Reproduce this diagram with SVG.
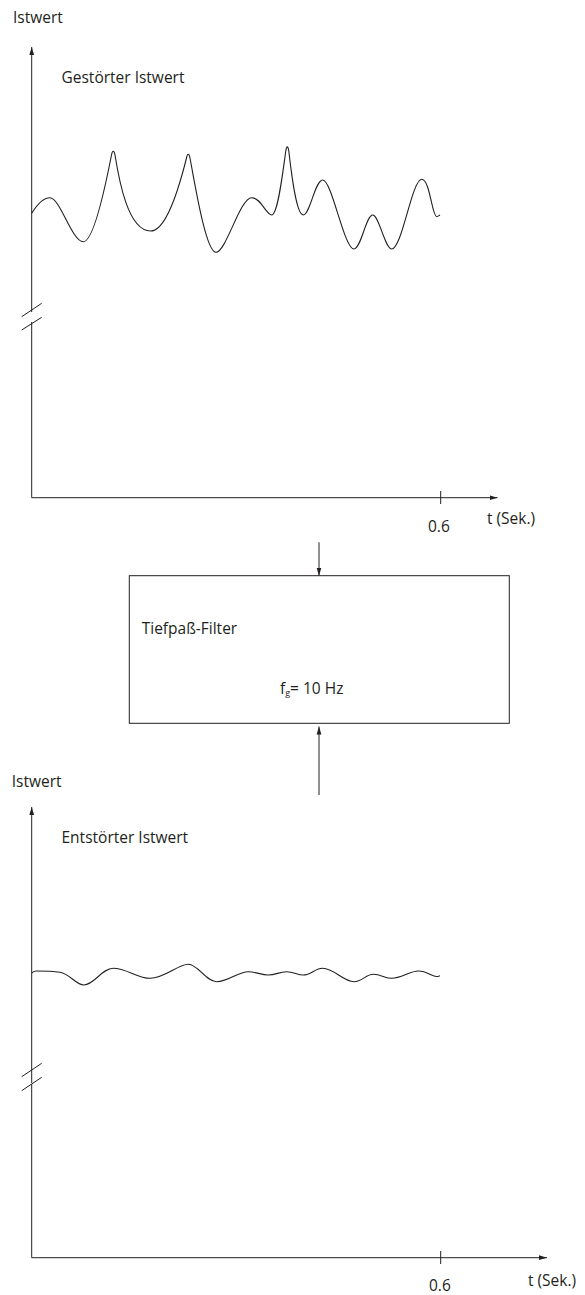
<svg xmlns="http://www.w3.org/2000/svg" width="585" height="1295" viewBox="0 0 585 1295">
<defs>
<marker id="ah" viewBox="0 0 8 6" refX="8" refY="3" markerWidth="8" markerHeight="6" markerUnits="userSpaceOnUse" orient="auto">
<path d="M0,0.6 L8,3 L0,5.4 Z" fill="#231f20"/>
</marker>
</defs>
<style>
.ln{stroke:#231f20;stroke-width:1;fill:none}
.cv{stroke:#231f20;stroke-width:1.1;fill:none;stroke-linejoin:round}
.tx{font-family:"Open Sans","Liberation Sans",sans-serif;font-size:15.5px;fill:#231f20}
.sub{font-size:9px}
</style>
<rect width="585" height="1295" fill="#fff"/>

<g id="chart-top">
<text class="tx" x="13" y="22.5">Istwert</text>
<line class="ln" x1="31.7" y1="312" x2="31.7" y2="47" marker-end="url(#ah)"/>
<line class="ln" x1="31.7" y1="322" x2="31.7" y2="497.7"/>
<line class="ln" x1="21.7" y1="316.7" x2="41.7" y2="303.3"/>
<line class="ln" x1="21.7" y1="330" x2="41.7" y2="317.3"/>
<line class="ln" x1="31.7" y1="497.7" x2="497.5" y2="497.7" marker-end="url(#ah)"/>
<line class="ln" x1="440.7" y1="491" x2="440.7" y2="504"/>
<text class="tx" x="61.5" y="83.3">Gestörter Istwert</text>
<text class="tx" x="428" y="532">0.6</text>
<text class="tx" x="487" y="524.3">t (Sek.)</text>
<path class="cv" d="M31.7,213.3 C38,203 44,197.7 50,197.7 C60,197.7 72,241.7 83.3,241.7 C94,241.7 107,178 111.5,155 C112.5,150 114,150 115,155 C119,180 128,231 150.7,231 C167,231 181,180 186.5,158 C187.5,153 189,153 190,158 C195,185 206,252.3 216,252.3 C226,252.3 240,197.7 251.7,197.7 C261,197.7 266,215 271.7,215 C278,215 283,170 285.8,151 C286.6,145.5 288,145.5 288.8,151 C291,170 296,215 303.3,215 C310,215 315,180 322.7,180 C332,180 344,249 354,249 C361,249 366,215 372.7,215 C379,215 385,249 391.7,249 C402,249 412,179.3 421.7,179.3 C430,179.3 432,216.7 436.7,216.7 C438,216.7 439,215.5 440,215"/>
</g>

<g id="filter">
<rect class="ln" x="129.3" y="575.7" width="380" height="147.6"/>
<text class="tx" x="141.7" y="634">Tiefpaß-Filter</text>
<text class="tx" x="280" y="694">f<tspan class="sub" dy="2">g</tspan><tspan dy="-2">= 10 Hz</tspan></text>
</g>

<g id="connectors">
<line class="ln" x1="319" y1="542.3" x2="319" y2="575.7" marker-end="url(#ah)"/>
<line class="ln" x1="319" y1="795" x2="319" y2="726.5" marker-end="url(#ah)"/>
</g>

<g id="chart-bottom">
<text class="tx" x="11.7" y="786.7">Istwert</text>
<line class="ln" x1="31.7" y1="1083" x2="31.7" y2="807" marker-end="url(#ah)"/>
<line class="ln" x1="31.7" y1="1084" x2="31.7" y2="1257.7"/>
<line class="ln" x1="21.7" y1="1076.7" x2="41.7" y2="1063.3"/>
<line class="ln" x1="21.7" y1="1090.7" x2="41.7" y2="1077.3"/>
<line class="ln" x1="31.7" y1="1257.7" x2="547" y2="1257.7" marker-end="url(#ah)"/>
<line class="ln" x1="440.7" y1="1251" x2="440.7" y2="1264"/>
<text class="tx" x="61.5" y="843.3">Entstörter Istwert</text>
<text class="tx" x="429" y="1290.5">0.6</text>
<text class="tx" x="528" y="1286">t (Sek.)</text>
<path class="cv" d="M31.7,973.3 C33,971.5 34,971 36,971 C45,971 55,971.5 60,972.3 C70,974 76,985 84,985 C94,985 102,968.3 113.3,968.3 C126,968.3 138,978.3 150,978.3 C165,978.3 178,964.3 188.3,964.3 C198,964.3 206,981.7 216.7,981.7 C228,981.7 238,971.7 248.3,971.7 C256,971.7 261,975 268.3,975 C276,975 279,971.7 286.7,971.7 C294,971.7 297,975 303.3,975 C311,975 315,968.3 322.7,968.3 C334,968.3 343,981.7 354,981.7 C362,981.7 366,974.3 373.3,974.3 C381,974.3 385,978.3 391.7,978.3 C401,978.3 410,971 418.3,971 C427,971 432,976.5 436.5,976.5 C438,976.5 439,976 440,975.7"/>
</g>
</svg>
